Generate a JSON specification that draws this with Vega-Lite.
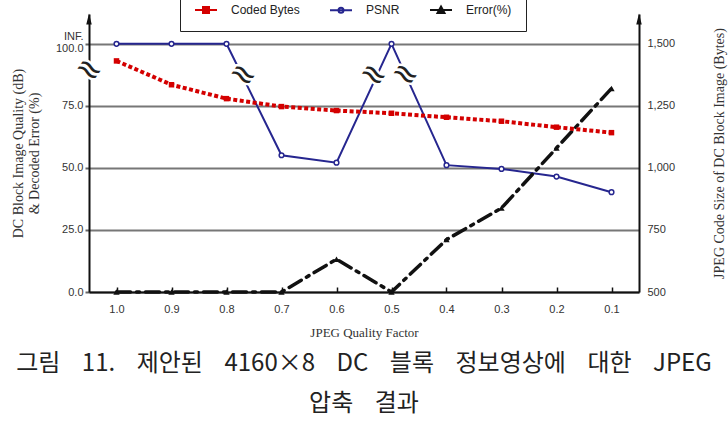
{
  "$schema": "https://vega.github.io/schema/vega-lite/v6.json",
  "width": 550,
  "height": 278,
  "autosize": {"type": "none"},
  "padding": {"left": 89, "top": 14, "right": 89, "bottom": 137},
  "background": "white",
  "config": {
    "view": {"stroke": null},
    "axis": {
      "labelFont": "Liberation Sans",
      "labelFontSize": 11,
      "labelColor": "#333",
      "titleFont": "Liberation Serif",
      "titleFontWeight": "normal",
      "titleColor": "#333",
      "domainColor": "#111",
      "domainWidth": 2
    },
    "legend": {
      "labelFont": "Liberation Sans",
      "labelFontSize": 12,
      "labelColor": "#222"
    }
  },
  "title": {
    "text": ["그림\u00a0\u00a0\u00a0 11.\u00a0\u00a0\u00a0 제안된\u00a0\u00a0\u00a0 4160×8\u00a0\u00a0\u00a0 DC\u00a0\u00a0\u00a0 블록\u00a0\u00a0\u00a0 정보영상에\u00a0\u00a0\u00a0 대한\u00a0\u00a0\u00a0 JPEG", "압축\u00a0\u00a0\u00a0 결과"],
    "orient": "bottom",
    "anchor": "middle",
    "font": "Noto Sans CJK KR",
    "fontSize": 24,
    "fontWeight": "normal",
    "lineHeight": 40,
    "color": "#222",
    "offset": 13
  },
  "datasets": {
    "results": [
      {"q": 1.0, "series": "PSNR", "value": 100},
      {"q": 0.9, "series": "PSNR", "value": 100},
      {"q": 0.8, "series": "PSNR", "value": 100},
      {"q": 0.7, "series": "PSNR", "value": 55.1},
      {"q": 0.6, "series": "PSNR", "value": 52.1},
      {"q": 0.5, "series": "PSNR", "value": 100},
      {"q": 0.4, "series": "PSNR", "value": 51.1},
      {"q": 0.3, "series": "PSNR", "value": 49.6},
      {"q": 0.2, "series": "PSNR", "value": 46.5},
      {"q": 0.1, "series": "PSNR", "value": 40.2},
      {"q": 1.0, "series": "Error(%)", "value": 0},
      {"q": 0.9, "series": "Error(%)", "value": 0},
      {"q": 0.8, "series": "Error(%)", "value": 0},
      {"q": 0.7, "series": "Error(%)", "value": 0},
      {"q": 0.6, "series": "Error(%)", "value": 13.2},
      {"q": 0.5, "series": "Error(%)", "value": 0},
      {"q": 0.4, "series": "Error(%)", "value": 21.1},
      {"q": 0.3, "series": "Error(%)", "value": 33.8},
      {"q": 0.2, "series": "Error(%)", "value": 58},
      {"q": 0.1, "series": "Error(%)", "value": 82},
      {"q": 1.0, "series": "Coded Bytes", "value": 1431},
      {"q": 0.9, "series": "Coded Bytes", "value": 1335},
      {"q": 0.8, "series": "Coded Bytes", "value": 1279},
      {"q": 0.7, "series": "Coded Bytes", "value": 1247},
      {"q": 0.6, "series": "Coded Bytes", "value": 1231},
      {"q": 0.5, "series": "Coded Bytes", "value": 1220},
      {"q": 0.4, "series": "Coded Bytes", "value": 1204},
      {"q": 0.3, "series": "Coded Bytes", "value": 1188},
      {"q": 0.2, "series": "Coded Bytes", "value": 1164},
      {"q": 0.1, "series": "Coded Bytes", "value": 1142}
    ],
    "breaks": [
      {"q": 1.05, "value": 89.5},
      {"q": 0.77, "value": 87.5},
      {"q": 0.533, "value": 87.5},
      {"q": 0.475, "value": 87.7}
    ],
    "arrows": [
      {"q": 1.05, "value": 110},
      {"q": 0.05, "value": 110}
    ]
  },
  "layer": [
    {
      "layer": [
        {
          "data": {"name": "results"},
          "transform": [{"filter": "datum.series === 'PSNR'"}],
          "mark": {"type": "line", "color": "#26268f", "strokeWidth": 2},
          "encoding": {
            "x": {
              "field": "q", "type": "quantitative",
              "scale": {"domain": [1.05, 0.05], "nice": false, "zero": false},
              "axis": {
                "title": "JPEG Quality Factor",
                "titleFontSize": 13,
                "titlePadding": 12,
                "values": [1.0, 0.9, 0.8, 0.7, 0.6, 0.5, 0.4, 0.3, 0.2, 0.1],
                "format": ".1f",
                "tickSize": -5,
                "tickColor": "#111",
                "tickWidth": 1.5,
                "labelPadding": 16,
                "grid": false,
                "zindex": 1
              }
            },
            "y": {
              "field": "value", "type": "quantitative",
              "scale": {"domain": [0, 112], "nice": false},
              "axis": {
                "title": ["DC Block Image Quality (dB)", "& Decoded Error (%)"],
                "titleFontSize": 14,
                "titleLineHeight": 16,
                "titlePadding": 14,
                "values": [0, 25, 50, 75, 100],
                "labelExpr": "datum.value === 100 ? ['INF.', '100.0'] : format(datum.value, '.1f')",
                "labelLineHeight": 12,
                "labelOffset": {"condition": {"test": "datum.value === 100", "value": -7}, "value": 0},
                "labelPadding": 2,
                "tickSize": 4,
                "tickColor": "#666",
                "tickWidth": 2,
                "grid": true,
                "gridColor": "#777",
                "gridWidth": 2
              }
            }
          }
        },
        {
          "data": {"name": "results"},
          "transform": [{"filter": "datum.series === 'PSNR'"}],
          "mark": {"type": "point", "shape": "circle", "filled": true, "fill": "white", "stroke": "#26268f", "strokeWidth": 1.5, "size": 22, "opacity": 1},
          "encoding": {
            "x": {"field": "q", "type": "quantitative"},
            "y": {"field": "value", "type": "quantitative"}
          }
        },
        {
          "data": {"name": "results"},
          "transform": [{"filter": "datum.series === 'Error(%)'"}],
          "mark": {"type": "line", "color": "#111", "strokeWidth": 3.5, "strokeDash": [14, 6, 3, 6], "strokeCap": "round"},
          "encoding": {
            "x": {"field": "q", "type": "quantitative"},
            "y": {"field": "value", "type": "quantitative"}
          }
        },
        {
          "data": {"name": "results"},
          "transform": [{"filter": "datum.series === 'Error(%)'"}],
          "mark": {"type": "point", "shape": "triangle-up", "filled": true, "color": "#111", "size": 40, "opacity": 1},
          "encoding": {
            "x": {"field": "q", "type": "quantitative"},
            "y": {"field": "value", "type": "quantitative"}
          }
        },
        {
          "data": {"name": "breaks"},
          "mark": {"type": "text", "text": "≈", "font": "DejaVu Sans", "fontSize": 32, "angle": 35, "stroke": "white", "strokeWidth": 5, "fill": "white"},
          "encoding": {
            "x": {"field": "q", "type": "quantitative"},
            "y": {"field": "value", "type": "quantitative"}
          }
        },
        {
          "data": {"name": "breaks"},
          "mark": {"type": "text", "text": "≈", "font": "DejaVu Sans", "fontSize": 32, "angle": 35, "fill": "#222"},
          "encoding": {
            "x": {"field": "q", "type": "quantitative"},
            "y": {"field": "value", "type": "quantitative"}
          }
        },
        {
          "data": {"name": "arrows"},
          "mark": {"type": "point", "shape": "M0,-1L0.5,1L-0.5,1Z", "filled": true, "color": "#111", "size": 120, "opacity": 1},
          "encoding": {
            "x": {"field": "q", "type": "quantitative"},
            "y": {"field": "value", "type": "quantitative"}
          }
        },
        {
          "data": {"name": "results"},
          "transform": [{"filter": "datum.q === 1.0"}],
          "mark": {"type": "point", "opacity": 0, "strokeWidth": 2},
          "encoding": {
            "x": {"field": "q", "type": "quantitative"},
            "y": {"datum": 0, "type": "quantitative"},
            "stroke": {
              "field": "series", "type": "nominal",
              "scale": {"domain": ["Coded Bytes", "PSNR", "Error(%)"], "range": ["#d40000", "#26268f", "#111111"]},
              "legend": {"title": null}
            },
            "fill": {
              "field": "series", "type": "nominal",
              "scale": {"domain": ["Coded Bytes", "PSNR", "Error(%)"], "range": ["#d40000", "#ffffff", "#111111"]},
              "legend": {"title": null}
            },
            "shape": {
              "field": "series", "type": "nominal",
              "scale": {
                "domain": ["Coded Bytes", "PSNR", "Error(%)"],
                "range": [
                  "M-1,0H3.4M0.6,-0.6H1.8V0.6H0.6Z",
                  "M-1,0H3.4M1.7,0A0.5,0.5 0 1,1 0.7,0A0.5,0.5 0 1,1 1.7,0Z",
                  "M-1,0H3.4M1.2,-0.7L1.9,0.6H0.5Z"
                ]
              },
              "legend": {
                "title": null,
                "orient": "none",
                "legendX": 91,
                "legendY": -24,
                "direction": "horizontal",
                "columns": 3,
                "columnPadding": 26,
                "padding": 14,
                "symbolSize": 100,
                "symbolOpacity": 1,
                "symbolStrokeWidth": 2,
                "labelOffset": 25,
                "strokeColor": "#222",
                "fillColor": "white"
              }
            }
          }
        }
      ]
    },
    {
      "data": {"name": "results"},
      "transform": [{"filter": "datum.series === 'Coded Bytes'"}],
      "layer": [
        {
          "mark": {"type": "line", "color": "#d40000", "strokeWidth": 4, "strokeDash": [4, 2.5]},
          "encoding": {
            "x": {"field": "q", "type": "quantitative"},
            "y": {
              "field": "value", "type": "quantitative",
              "scale": {"domain": [500, 1620], "nice": false, "zero": false},
              "axis": {
                "orient": "right",
                "title": "JPEG Code Size of DC Block Image (Bytes)",
                "titleFontSize": 14,
                "titleAngle": 270,
                "titlePadding": 52,
                "values": [500, 750, 1000, 1250, 1500],
                "labelExpr": "format(datum.value, ',d')",
                "ticks": false,
                "labelPadding": 8,
                "grid": false
              }
            }
          }
        },
        {
          "mark": {"type": "point", "shape": "square", "filled": true, "color": "#d40000", "size": 30, "opacity": 1},
          "encoding": {
            "x": {"field": "q", "type": "quantitative"},
            "y": {"field": "value", "type": "quantitative"}
          }
        }
      ]
    }
  ],
  "resolve": {"scale": {"y": "independent"}}
}
